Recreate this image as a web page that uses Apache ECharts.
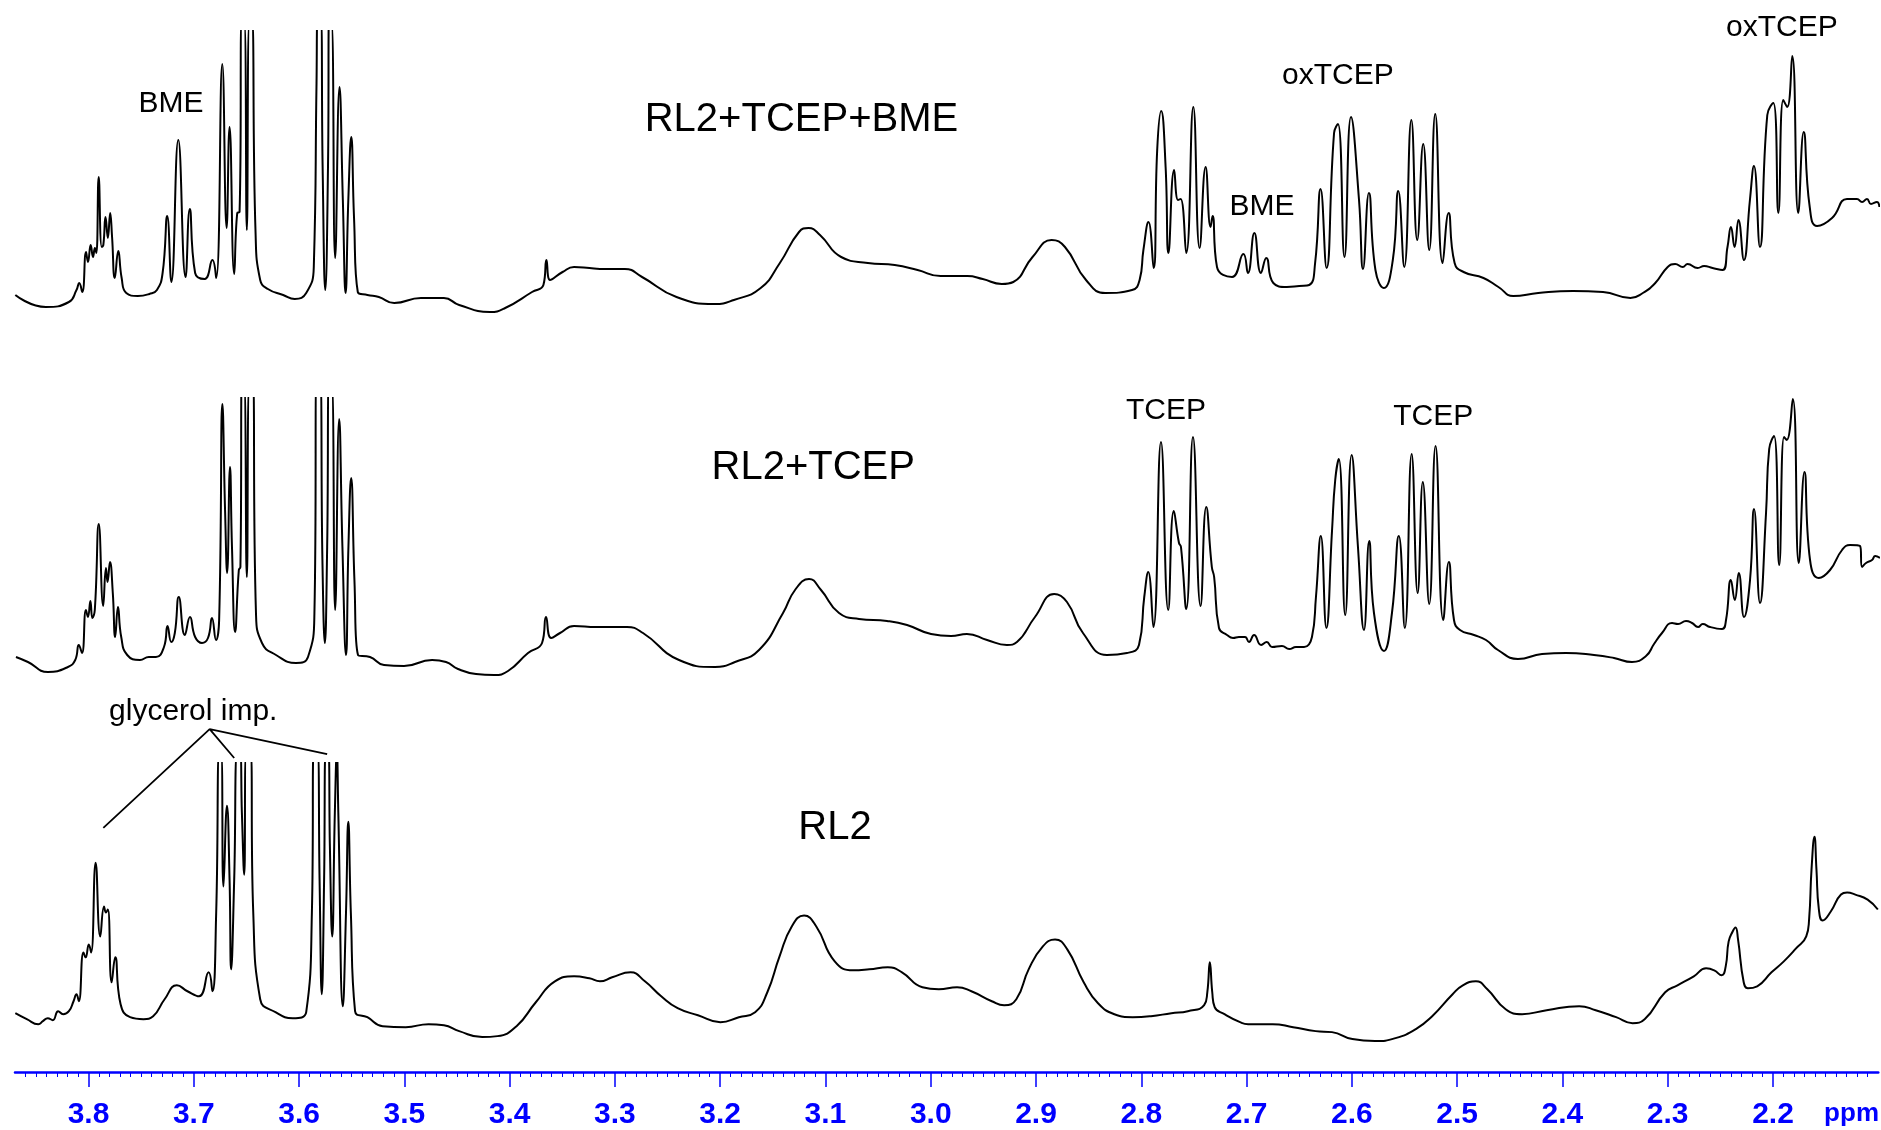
<!DOCTYPE html>
<html>
<head>
<meta charset="utf-8">
<title>NMR spectra</title>
<script src="https://cdn.jsdelivr.net/npm/echarts@6/dist/echarts.min.js"></script>
<style>
html, body { margin: 0; padding: 0; background: #fff; }
#main { width: 1881px; height: 1130px; }
</style>
</head>
<body>
<div id="main"></div>
<script>
// spectrum traces, [ppm, intensity]
var topTrace = [[3.8695,25],[3.8405,13],[3.8186,18],[3.8114,30],[3.8088,37],[3.8059,28],[3.8023,68],[3.8005,58],[3.7979,75],[3.7957,63],[3.7939,72],[3.7925,67],[3.7903,143],[3.7874,73],[3.7859,75],[3.7838,103],[3.7816,82],[3.7794,107],[3.7776,83],[3.775,42],[3.7717,69],[3.7685,42],[3.7641,27],[3.7532,24],[3.7422,26],[3.735,30],[3.7296,47],[3.7252,104],[3.7213,38],[3.7147,180],[3.7078,43],[3.7038,111],[3.6987,47],[3.6896,41],[3.6823,60],[3.6787,42],[3.6729,256],[3.6688,92],[3.666,193],[3.6616,46],[3.6587,107],[3.6565,108],[3.6543,300],[3.6521,300],[3.6496,90],[3.6471,300],[3.6449,300],[3.6413,87],[3.6369,40],[3.6296,31],[3.6151,25],[3.6041,21],[3.5932,27],[3.586,53],[3.5834,237],[3.5824,300],[3.5794,300],[3.5776,153],[3.5751,30],[3.5725,153],[3.5715,300],[3.5693,300],[3.5657,62],[3.5616,233],[3.5584,120],[3.5558,27],[3.5532,120],[3.5504,183],[3.5478,103],[3.5442,28],[3.5351,25],[3.5242,23],[3.5096,17],[3.4842,22],[3.4624,22],[3.4479,15],[3.4187,8],[3.4042,12],[3.3787,28],[3.3679,35],[3.365,60],[3.3616,40],[3.3497,48],[3.3388,53],[3.3242,52],[3.3142,51],[3.2905,51],[3.2742,43],[3.2415,23],[3.2051,16],[3.187,20],[3.1615,32],[3.1433,57],[3.1251,88],[3.116,92],[3.1052,85],[3.0851,63],[3.0597,57],[3.0342,55],[3.0125,50],[2.9906,44],[2.9652,44],[2.9506,41],[2.9325,36],[2.9216,38],[2.9033,63],[2.8852,80],[2.8725,73],[2.8525,40],[2.8343,27],[2.8088,30],[2.8016,40],[2.798,70],[2.7932,98],[2.7883,52],[2.7849,170],[2.7811,209],[2.7769,153],[2.7742,67],[2.7688,150],[2.7651,120],[2.7626,121],[2.7573,67],[2.7506,213],[2.7446,72],[2.7389,153],[2.7342,93],[2.7323,104],[2.7281,53],[2.7138,43],[2.703,66],[2.6987,47],[2.6926,87],[2.6864,47],[2.6813,62],[2.6746,37],[2.6618,33],[2.65,34],[2.6405,35],[2.6349,57],[2.6297,131],[2.624,52],[2.6169,187],[2.6132,196],[2.607,63],[2.6008,203],[2.5932,120],[2.5894,51],[2.5838,127],[2.5776,50],[2.5696,32],[2.5611,60],[2.5559,129],[2.5502,53],[2.5435,200],[2.5379,80],[2.5322,176],[2.5265,70],[2.5208,206],[2.5138,57],[2.5081,107],[2.5024,57],[2.4939,48],[2.475,42],[2.4608,33],[2.4467,24],[2.423,27],[2.3899,29],[2.3614,28],[2.3354,22],[2.3236,27],[2.3118,37],[2.3,53],[2.2929,56],[2.2857,53],[2.2811,56],[2.2716,52],[2.2654,54],[2.2574,52],[2.2479,50],[2.2432,73],[2.2399,93],[2.2365,73],[2.2328,100],[2.2276,60],[2.2219,120],[2.2181,154],[2.2124,73],[2.2054,205],[2.1997,217],[2.1949,107],[2.1902,220],[2.1865,213],[2.1817,264],[2.176,107],[2.1708,188],[2.1651,113],[2.1581,94],[2.1439,102],[2.1297,121],[2.1202,121],[2.1154,118],[2.1107,121],[2.1069,116],[2.1013,118],[2.0989,113]];

var midTrace = [[3.8689,33],[3.8575,28],[3.8385,18],[3.8195,23],[3.8126,30],[3.8092,45],[3.8062,37],[3.8024,80],[3.8005,73],[3.7982,89],[3.7963,72],[3.794,80],[3.7902,166],[3.786,84],[3.7834,122],[3.7819,108],[3.7796,128],[3.7769,97],[3.7746,53],[3.772,83],[3.7689,53],[3.7632,35],[3.7511,30],[3.7427,33],[3.7359,33],[3.7283,43],[3.7249,64],[3.7214,48],[3.718,57],[3.7142,93],[3.7085,55],[3.7036,73],[3.6987,53],[3.6922,47],[3.6865,52],[3.6827,72],[3.6789,50],[3.6759,70],[3.6728,286],[3.6702,177],[3.6683,117],[3.6656,223],[3.6637,143],[3.6607,58],[3.6572,120],[3.6557,123],[3.6542,310],[3.6523,310],[3.6496,113],[3.647,310],[3.6443,310],[3.6409,77],[3.6352,47],[3.6219,35],[3.6029,27],[3.5915,33],[3.5854,77],[3.5831,310],[3.5801,310],[3.5778,130],[3.5755,47],[3.5733,143],[3.5714,310],[3.5691,310],[3.5657,80],[3.5619,271],[3.5588,143],[3.5554,35],[3.5531,143],[3.5505,212],[3.5474,110],[3.544,35],[3.5326,33],[3.5193,25],[3.5003,24],[3.4737,30],[3.4604,28],[3.449,21],[3.4319,16],[3.4148,15],[3.4015,19],[3.3825,37],[3.3692,47],[3.3654,73],[3.3605,52],[3.3521,57],[3.3388,64],[3.3179,63],[3.2885,63],[3.2733,57],[3.2391,30],[3.2049,23],[3.1859,28],[3.1631,40],[3.1403,77],[3.1289,100],[3.1156,111],[3.1042,100],[3.0871,77],[3.0681,71],[3.0415,69],[3.0225,65],[2.9997,56],[2.9807,54],[2.9656,56],[2.9465,50],[2.9276,45],[2.9181,48],[2.901,73],[2.8827,96],[2.8706,88],[2.8554,57],[2.8326,35],[2.8136,37],[2.8022,45],[2.7972,93],[2.7934,118],[2.7885,63],[2.7813,248],[2.7744,80],[2.7691,179],[2.7642,147],[2.7623,143],[2.7573,81],[2.7509,253],[2.7437,84],[2.7383,183],[2.733,123],[2.7308,113],[2.7262,62],[2.7186,55],[2.7129,52],[2.7072,53],[2.7015,53],[2.6977,48],[2.6929,55],[2.6861,45],[2.6808,48],[2.6758,43],[2.6664,44],[2.6595,41],[2.6531,43],[2.6454,43],[2.6379,53],[2.6341,93],[2.6295,154],[2.6242,62],[2.6188,160],[2.6158,210],[2.6124,231],[2.6063,75],[2.6002,235],[2.5942,143],[2.5885,60],[2.5835,149],[2.579,77],[2.5695,39],[2.5619,77],[2.5554,154],[2.5497,62],[2.5432,236],[2.5375,97],[2.5326,208],[2.5265,86],[2.5205,244],[2.5132,70],[2.5079,128],[2.503,70],[2.4973,60],[2.484,55],[2.4726,50],[2.4612,40],[2.4422,31],[2.4194,36],[2.3966,37],[2.37,35],[2.351,32],[2.3339,28],[2.3206,34],[2.313,46],[2.3054,57],[2.2959,67],[2.2902,66],[2.2826,69],[2.2769,67],[2.2712,63],[2.2667,66],[2.2598,63],[2.2484,61],[2.2446,70],[2.24,110],[2.2363,90],[2.2325,117],[2.2275,73],[2.2218,110],[2.218,181],[2.2123,87],[2.2066,177],[2.2036,241],[2.199,254],[2.1941,125],[2.1895,253],[2.1869,250],[2.1812,291],[2.1755,127],[2.1701,218],[2.1648,130],[2.1565,112],[2.1458,120],[2.1344,140],[2.1268,145],[2.1173,144],[2.1154,123],[2.1116,127],[2.1059,130],[2.1029,134],[2.0983,132]];

var lowTrace = [[3.8695,59],[3.8586,53],[3.8477,48],[3.8433,51],[3.8387,54],[3.8339,52],[3.8288,61],[3.8241,58],[3.8186,61],[3.8142,71],[3.8114,78],[3.8092,71],[3.8048,120],[3.8027,115],[3.7997,128],[3.7975,120],[3.7932,210],[3.7888,136],[3.7852,166],[3.7834,160],[3.7816,163],[3.778,90],[3.7746,115],[3.7695,68],[3.7605,55],[3.7478,53],[3.7386,56],[3.7277,73],[3.7161,87],[3.706,81],[3.695,76],[3.6859,100],[3.6823,81],[3.6787,160],[3.6758,320],[3.674,320],[3.6718,186],[3.6685,267],[3.666,193],[3.6645,103],[3.6616,193],[3.6587,320],[3.6561,320],[3.6543,260],[3.6521,198],[3.6503,320],[3.6463,320],[3.6435,160],[3.6369,73],[3.6224,60],[3.6059,54],[3.5932,60],[3.5878,160],[3.586,320],[3.5824,320],[3.5805,193],[3.5784,78],[3.5762,193],[3.5747,320],[3.5721,320],[3.5707,226],[3.5685,136],[3.566,260],[3.5641,320],[3.5627,260],[3.5584,66],[3.5554,160],[3.5532,251],[3.5508,160],[3.5468,61],[3.5351,55],[3.5206,46],[3.4987,45],[3.477,48],[3.4624,47],[3.4479,41],[3.426,35],[3.4115,36],[3.3934,46],[3.3751,70],[3.357,91],[3.3388,96],[3.3242,94],[3.3142,91],[3.3026,95],[3.2851,100],[3.2715,91],[3.256,76],[3.2404,64],[3.2211,57],[3.1998,50],[3.1823,55],[3.1668,60],[3.1552,80],[3.1436,116],[3.132,146],[3.1203,157],[3.1087,146],[3.0912,111],[3.0737,102],[3.0583,103],[3.0408,105],[3.0273,100],[3.0079,85],[2.9923,83],[2.975,85],[2.9614,81],[2.942,71],[2.9303,67],[2.9187,73],[2.907,103],[2.8935,126],[2.8819,133],[2.8703,123],[2.8547,90],[2.8411,69],[2.8256,58],[2.8082,55],[2.7908,56],[2.7714,59],[2.7558,61],[2.7403,67],[2.7373,80],[2.7349,110],[2.7326,80],[2.7303,65],[2.721,58],[2.7062,50],[2.6985,48],[2.6752,48],[2.6558,45],[2.6344,41],[2.6188,40],[2.5995,33],[2.5781,31],[2.5586,34],[2.5392,43],[2.5237,56],[2.5043,78],[2.4946,87],[2.4822,91],[2.4713,83],[2.4539,63],[2.4383,58],[2.415,62],[2.384,66],[2.3684,62],[2.349,55],[2.3334,49],[2.3219,53],[2.3024,80],[2.2907,87],[2.2752,96],[2.2635,104],[2.2558,102],[2.2488,97],[2.2449,106],[2.2421,131],[2.2383,141],[2.2356,145],[2.2332,133],[2.2278,90],[2.2239,84],[2.215,86],[2.2014,100],[2.1897,111],[2.1781,124],[2.1684,136],[2.1657,153],[2.1634,203],[2.1606,236],[2.1587,203],[2.1564,163],[2.1528,152],[2.1451,161],[2.1354,178],[2.1296,180],[2.1218,178],[2.1101,173],[2.1004,163]];

// sample names and where they sit [ppm, intensity]
var sampleNames = ['RL2+TCEP+BME', 'RL2+TCEP', 'RL2'];
var namePos = [[3.1228, 200], [3.1116, 222], [3.0909, 245]];

// peak assignments per trace [ppm, intensity, text]
var peakLabels = [
	[[3.7216, 216, 'BME'], [2.6133, 244, 'oxTCEP'], [2.6854, 113, 'BME'], [2.1916, 292, 'oxTCEP']],
	[[2.7765, 279, 'TCEP'], [2.5227, 273, 'TCEP']],
	[[3.7005, 361, 'glycerol imp.']]
];

// pointer lines for glycerol impurity (bottom trace)
var glycerolLines = [[3.7859, 245], [3.6849, 344], [3.6616, 315], [3.6849, 344], [3.5733, 319]];

// ppm ticks
var tickValues = [2.2, 2.3, 2.4, 2.5, 2.6, 2.7, 2.8, 2.9, 3.0, 3.1, 3.2, 3.3, 3.4, 3.5, 3.6, 3.7, 3.8];

var FONT = 'Liberation Sans, Arial, sans-serif';
var BLUE = '#0000ff';

var traces = [topTrace, midTrace, lowTrace];
var grids = [
	{left: 15, right: 2.74, top: 31, height: 289},
	{left: 15, right: 2.74, top: 398, height: 292},
	{left: 15, right: 2.74, top: 763, height: 310}
];

function textLabel(size) {
	return {
		show: true, position: 'inside',
		formatter: function (p) { return p.value[2]; },
		color: '#000', opacity: 1, textBorderWidth: 0,
		fontSize: size, fontFamily: FONT
	};
}

var xAxes = [], yAxes = [], series = [];
for (var i = 0; i < 3; i++) {
	var isLast = i == 2;
	xAxes.push({
		gridIndex: i,
		type: 'value',
		inverse: true,
		min: 2.1,
		max: 3.8698,
		interval: 0.1,
		show: isLast,
		axisLine: {show: true, onZero: false, lineStyle: {color: BLUE, width: 2.5}},
		axisTick: {show: true, length: 15, customValues: tickValues, lineStyle: {color: BLUE, width: 1.5}},
		minorTick: {show: true, splitNumber: 10, length: 5, lineStyle: {color: BLUE, width: 1}},
		axisLabel: {
			customValues: tickValues,
			formatter: function (v) { return v.toFixed(1); },
			color: BLUE, fontWeight: 'bold', fontSize: 30, fontFamily: FONT, margin: 28
		},
		splitLine: {show: false}
	});
	yAxes.push({
		gridIndex: i,
		type: 'value',
		min: 0,
		max: grids[i].height,
		show: false
	});
	series.push({
		type: 'line',
		xAxisIndex: i,
		yAxisIndex: i,
		data: traces[i],
		symbol: 'none',
		smooth: 0.5,
		clip: true,
		lineStyle: {color: '#000', width: 2},
		silent: true
	});
	// sample name
	series.push({
		type: 'scatter',
		xAxisIndex: i,
		yAxisIndex: i,
		clip: false,
		silent: true,
		symbolSize: 1,
		itemStyle: {color: 'transparent'},
		data: [[namePos[i][0], namePos[i][1], sampleNames[i]]],
		label: textLabel(40)
	});
	// peak labels
	series.push({
		type: 'scatter',
		xAxisIndex: i,
		yAxisIndex: i,
		clip: false,
		silent: true,
		symbolSize: 1,
		itemStyle: {color: 'transparent'},
		data: peakLabels[i],
		label: textLabel(30)
	});
}

series.push({
	type: 'line',
	xAxisIndex: 2,
	yAxisIndex: 2,
	data: glycerolLines,
	symbol: 'none',
	clip: false,
	silent: true,
	lineStyle: {color: '#000', width: 1.8}
});

var chart = echarts.init(document.getElementById('main'));
chart.setOption({
	animation: false,
	backgroundColor: '#fff',
	grid: grids,
	xAxis: xAxes,
	yAxis: yAxes,
	series: series,
	graphic: [{
		type: 'text',
		x: 1879,
		y: 1114,
		style: {text: 'ppm', fill: BLUE, font: 'bold 26px ' + FONT, align: 'right', verticalAlign: 'middle'}
	}]
});
</script>
</body>
</html>
